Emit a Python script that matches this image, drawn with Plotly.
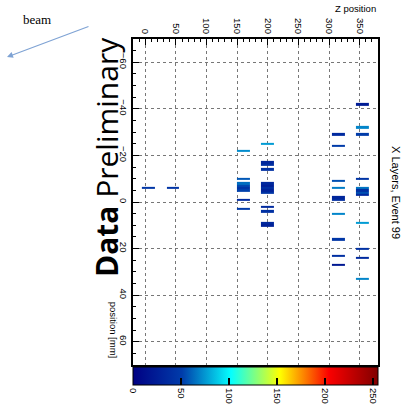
import numpy as np
import plotly.graph_objects as go

# ---- data ----
layer_z = [5, 45, 160, 200, 315, 355]          # Z position of each X layer
hit_layer = [0, 1,
             2, 2, 2, 2, 2, 2, 2, 2,
             3, 3, 3, 3, 3, 3, 3, 3, 3, 3, 3, 3, 3,
             4, 4, 4, 4, 4, 4, 4, 4, 4, 4,
             5, 5, 5, 5, 5, 5, 5, 5, 5, 5, 5, 5]
hit_x = [-6, -6,
         -22, -10, -8, -7, -6, -5, -1, 3,
         -25, -17, -16, -14, -8, -7, -6, -5, -4, 2, 4, 9, 10,
         -29, -24, -9, -6, -2, -1, 5, 16, 23, 27,
         -42, -32, -29, -10, -6, -5, -4, -3, 9, 20, 24, 33]
hit_adc = [46, 44,
           72, 58, 64, 54, 44, 52, 36, 50,
           76, 32, 40, 42, 34, 26, 40, 30, 44, 36, 42, 34, 28,
           36, 50, 56, 68, 32, 38, 70, 46, 40, 20,
           24, 70, 50, 44, 66, 40, 56, 36, 76, 42, 36, 70]
z_ticks = [0, 50, 100, 150, 200, 250, 300, 350]
x_ticks = [-60, -40, -20, 0, 20, 40, 60]
cbar_ticks = [0, 50, 100, 150, 200, 250]

# ---- binning ----
layer_width = 21
xedges = []
for z in layer_z:
    xedges += [z - layer_width / 2, z + layer_width / 2]
yedges = np.arange(-70.5, 71.0, 1.0)
ny, nx = len(yedges) - 1, len(xedges) - 1
zgrid = np.full((ny, nx), np.nan)
for L, xv, a in zip(hit_layer, hit_x, hit_adc):
    zgrid[int(round(xv)) + 70, 2 * L] = a

fig = go.Figure(go.Heatmap(
    x=xedges, y=yedges, z=zgrid,
    colorscale="Jet", zmin=0, zmax=255, hoverongaps=False,
    colorbar=dict(
        orientation="h", x=0.5, xanchor="center", y=-0.006, yanchor="top",
        len=1, lenmode="fraction", thickness=18, xpad=0, ypad=0,
        outlinecolor="black", outlinewidth=1,
        tickvals=cbar_ticks, ticks="inside", ticklen=7, tickwidth=1.5,
        tickcolor="black", tickangle=90,
        tickfont=dict(family="Liberation Sans, Arial", size=9.5, color="black"),
    ),
))

axis_font = dict(family="Liberation Sans, Arial", size=9.5, color="black")
fig.update_xaxes(
    range=[-20, 380], side="top", tickvals=z_ticks, ticks="inside", ticklen=6,
    tickcolor="black", tickangle=90, tickfont=axis_font,
    minor=dict(dtick=10, tick0=0, ticks="inside", ticklen=3, tickcolor="black", showgrid=False),
    showgrid=True, gridcolor="#777", griddash="dot", gridwidth=1,
    showline=True, linecolor="black", linewidth=1.5, mirror=True, zeroline=False,
)
fig.update_yaxes(
    range=[70, -70], tickvals=x_ticks, ticks="inside", ticklen=6,
    tickcolor="black", tickangle=90, tickfont=axis_font,
    minor=dict(dtick=5, tick0=0, ticks="inside", ticklen=3, tickcolor="black", showgrid=False),
    showgrid=True, gridcolor="#777", griddash="dot", gridwidth=1,
    showline=True, linecolor="black", linewidth=1.5, mirror=True, zeroline=False,
)

fig.update_layout(
    width=407, height=405, autosize=False,
    margin=dict(l=133, r=29, t=39, b=40, autoexpand=False),
    paper_bgcolor="white", plot_bgcolor="white",
    annotations=[
        dict(text="Z position", xref="paper", yref="paper", x=1.0, y=1.095,
             xanchor="right", yanchor="middle", showarrow=False,
             font=dict(family="Liberation Sans, Arial", size=9.5, color="black")),
        dict(text="position [mm]", xref="paper", yref="paper", x=-0.078, y=0.012,
             xanchor="center", yanchor="bottom", textangle=90, showarrow=False,
             font=dict(family="Liberation Sans, Arial", size=9.5, color="black")),
        dict(text="X Layers, Event 99", xref="paper", yref="paper", x=1.074, y=0.53,
             xanchor="center", yanchor="middle", textangle=90, showarrow=False,
             font=dict(family="Liberation Sans, Arial", size=11, color="black")),
        dict(text="<b>Data</b> Preliminary", xref="paper", yref="paper", x=-0.11, y=0.638,
             xanchor="center", yanchor="middle", textangle=-90, showarrow=False,
             font=dict(family="Open Sans", size=30, color="black")),
        dict(text="beam", xref="paper", yref="paper", x=(37 - 133) / 245, y=(365 - 20) / 326,
             xanchor="center", yanchor="middle", showarrow=False,
             font=dict(family="Liberation Serif, Times New Roman", size=13, color="black")),
        dict(text="", xref="paper", yref="paper", x=(7 - 133) / 245, y=(365 - 57) / 326,
             ax=83, ay=-31, showarrow=True, arrowhead=2, arrowsize=1, arrowwidth=1.2,
             arrowcolor="#7fa3d4"),
    ],
)

fig.write_html("out.html", config={"displayModeBar": False},
               post_script="document.body.style.margin='0';")
